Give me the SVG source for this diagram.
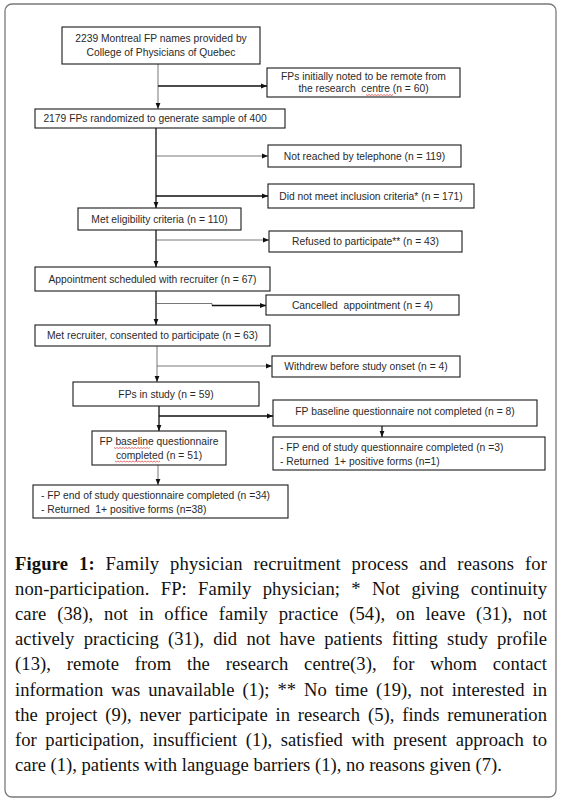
<svg xmlns="http://www.w3.org/2000/svg" width="561" height="804" viewBox="0 0 561 804">
<defs>
<marker id="ah" viewBox="0 0 6 6" refX="6" refY="3" markerWidth="6" markerHeight="6" markerUnits="userSpaceOnUse" orient="auto">
<path d="M0,0.6 L6,3 L0,5.4 Z" fill="#111"/>
</marker>
<style>
.box{fill:#fff;stroke:#1a1a1a;stroke-width:1.1}
.t{font-family:"Liberation Sans",Arial,sans-serif;font-size:10.3px;fill:#2a2a2a;text-anchor:middle}
.tl{font-family:"Liberation Sans",Arial,sans-serif;font-size:10.3px;fill:#2a2a2a}
.thick{stroke:#111;stroke-width:1.3;fill:none}
.thin{stroke:#555;stroke-width:0.8;fill:none}
.cap{font-family:"Liberation Serif","Times New Roman",serif;font-size:18.6px;fill:#111}
.sq{stroke:#e03030;stroke-width:0.7;fill:none}
</style>
</defs>
<rect x="5" y="4" width="551" height="793" rx="7" fill="#fff" stroke="#7a7a7a" stroke-width="1.3"/>

<g id="connectors">
<line class="thin" x1="158" y1="64" x2="158" y2="109" marker-end="url(#ah)"/>
<line class="thick" x1="158" y1="86" x2="267" y2="86" marker-end="url(#ah)"/>
<line class="thick" x1="156" y1="128" x2="156" y2="208" marker-end="url(#ah)"/>
<line class="thin" x1="156" y1="156" x2="268" y2="156" marker-end="url(#ah)"/>
<line class="thick" x1="156" y1="196" x2="268" y2="196" marker-end="url(#ah)"/>
<line class="thick" x1="156" y1="230" x2="156" y2="267" marker-end="url(#ah)"/>
<line class="thin" x1="156" y1="240" x2="269" y2="240" marker-end="url(#ah)"/>
<line class="thick" x1="156" y1="291" x2="156" y2="325" marker-end="url(#ah)"/>
<polyline class="thin" points="156,303.5 212,303.5 212,305.5"/>
<line class="thick" x1="212" y1="305.5" x2="266" y2="305.5" marker-end="url(#ah)"/>
<line class="thin" x1="157" y1="346" x2="157" y2="382" marker-end="url(#ah)"/>
<line class="thin" x1="157" y1="366" x2="272" y2="366" marker-end="url(#ah)"/>
<line class="thick" x1="159" y1="406" x2="159" y2="431" marker-end="url(#ah)"/>
<line class="thick" x1="159" y1="416" x2="273" y2="416" marker-end="url(#ah)"/>
<line class="thick" x1="382" y1="426" x2="382" y2="437" marker-end="url(#ah)"/>
<line class="thin" x1="158" y1="465" x2="158" y2="485" marker-end="url(#ah)"/>
</g>

<g id="n1"><rect class="box" x="62" y="27" width="198" height="37"/>
<text class="t" x="161" y="41.5">2239 Montreal FP names provided by</text>
<text class="t" x="161" y="55.5">College of Physicians of Quebec</text></g>

<g id="n2"><rect class="box" x="267" y="68" width="193" height="29"/>
<text class="t" x="363.5" y="80">FPs initially noted to be remote from</text>
<text class="t" x="363.5" y="92" xml:space="preserve">the research  centre (n = 60)</text>
<path class="sq" d="M366,94.5 l1.5,1 l1.5,-1 l1.5,1 l1.5,-1 l1.5,1 l1.5,-1 l1.5,1 l1.5,-1 l1.5,1 l1.5,-1 l1.5,1 l1.5,-1 l1.5,1 l1.5,-1 l1.5,1 l1.5,-1 l1.5,1 l1.5,-1"/></g>

<g id="n3"><rect class="box" x="35" y="109" width="250" height="19"/>
<text class="t" x="155" y="122.3">2179 FPs randomized to generate sample of 400</text></g>

<g id="n4"><rect class="box" x="268" y="145" width="193" height="22"/>
<text class="t" x="364.5" y="159.8">Not reached by telephone (n = 119)</text></g>

<g id="n5"><rect class="box" x="268" y="184" width="206" height="24"/>
<text class="t" x="371" y="199.8">Did not meet inclusion criteria* (n = 171)</text></g>

<g id="n6"><rect class="box" x="78" y="208" width="163" height="22"/>
<text class="t" x="159.5" y="222.8">Met eligibility criteria (n = 110)</text></g>

<g id="n7"><rect class="box" x="269" y="231" width="193" height="21"/>
<text class="t" x="365.5" y="245">Refused to participate** (n = 43)</text></g>

<g id="n8"><rect class="box" x="35" y="267" width="235" height="24"/>
<text class="t" x="152.5" y="282.5">Appointment scheduled with recruiter (n = 67)</text></g>

<g id="n9"><rect class="box" x="266" y="295" width="193" height="20"/>
<text class="t" x="362.5" y="308.8" xml:space="preserve">Cancelled  appointment (n = 4)</text></g>

<g id="n10"><rect class="box" x="35" y="325" width="235" height="21"/>
<text class="t" x="152.5" y="339">Met recruiter, consented to participate (n = 63)</text></g>

<g id="n11"><rect class="box" x="272" y="356" width="188" height="21"/>
<text class="t" x="366" y="370">Withdrew before study onset (n = 4)</text></g>

<g id="n12"><rect class="box" x="73" y="382" width="186" height="24"/>
<text class="t" x="166" y="397.5">FPs in study (n = 59)</text></g>

<g id="n13"><rect class="box" x="273" y="400" width="264" height="26"/>
<text class="t" x="405" y="415">FP baseline questionnaire not completed (n = 8)</text></g>

<g id="n14"><rect class="box" x="273" y="437" width="272" height="33"/>
<text class="tl" x="280" y="450.5">- FP end of study questionnaire completed (n =3)</text>
<text class="tl" x="280" y="464.5" xml:space="preserve">- Returned  1+ positive forms (n=1)</text></g>

<g id="n15"><rect class="box" x="92" y="431" width="134" height="34"/>
<text class="t" x="159" y="445">FP baseline questionnaire</text>
<text class="t" x="159" y="458.5">completed (n = 51)</text>
<path class="sq" d="M114,447.5 l1.5,1 l1.5,-1 l1.5,1 l1.5,-1 l1.5,1 l1.5,-1 l1.5,1 l1.5,-1 l1.5,1 l1.5,-1 l1.5,1 l1.5,-1 l1.5,1 l1.5,-1 l1.5,1 l1.5,-1 l1.5,1 l1.5,-1 l1.5,1 l1.5,-1 l1.5,1 l1.5,-1 l1.5,1 l1.5,-1"/>
<path class="sq" d="M115,461 l1.5,1 l1.5,-1 l1.5,1 l1.5,-1 l1.5,1 l1.5,-1 l1.5,1 l1.5,-1 l1.5,1 l1.5,-1 l1.5,1 l1.5,-1 l1.5,1 l1.5,-1 l1.5,1 l1.5,-1 l1.5,1 l1.5,-1 l1.5,1 l1.5,-1 l1.5,1 l1.5,-1 l1.5,1 l1.5,-1 l1.5,1 l1.5,-1 l1.5,1 l1.5,-1 l1.5,1 l1.5,-1"/></g>

<g id="n16"><rect class="box" x="33" y="485" width="255" height="33"/>
<text class="tl" x="41" y="498.5">- FP end of study questionnaire completed (n =34)</text>
<text class="tl" x="41" y="512.5" xml:space="preserve">- Returned  1+ positive forms (n=38)</text></g>

<g id="caption">
<text class="cap" x="15" y="570" textLength="532" lengthAdjust="spacing" word-spacing="6"><tspan font-weight="bold">Figure 1:</tspan> Family physician recruitment process and reasons for</text>
<text class="cap" x="15" y="595" textLength="532" lengthAdjust="spacing" word-spacing="6.5">non-participation. FP: Family physician; * Not giving continuity</text>
<text class="cap" x="15" y="620" textLength="532" lengthAdjust="spacing" word-spacing="6">care (38), not in office family practice (54), on leave (31), not</text>
<text class="cap" x="15" y="645" textLength="532" lengthAdjust="spacing" word-spacing="4.5">actively practicing (31), did not have patients fitting study profile</text>
<text class="cap" x="15" y="670" textLength="532" lengthAdjust="spacing" word-spacing="11">(13), remote from the research centre(3), for whom contact</text>
<text class="cap" x="15" y="696" textLength="532" lengthAdjust="spacing" word-spacing="3.3">information was unavailable (1); ** No time (19), not interested in</text>
<text class="cap" x="15" y="721" textLength="532" lengthAdjust="spacing" word-spacing="3">the project (9), never participate in research (5), finds remuneration</text>
<text class="cap" x="15" y="746" textLength="532" lengthAdjust="spacing" word-spacing="4">for participation, insufficient (1), satisfied with present approach to</text>
<text class="cap" x="15" y="771">care (1), patients with language barriers (1), no reasons given (7).</text>
</g>
</svg>
